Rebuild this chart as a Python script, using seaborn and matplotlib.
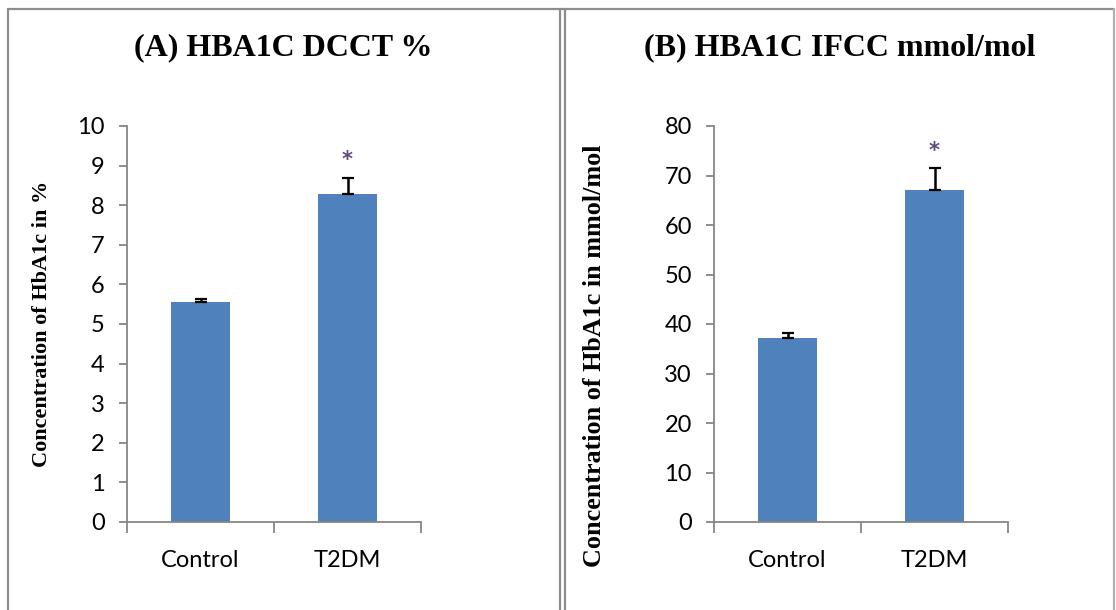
import matplotlib
matplotlib.use("Agg")
import matplotlib.pyplot as plt
from matplotlib.lines import Line2D
import seaborn as sns
import pandas as pd

# Group means and upper error bars
groups = ["Control", "T2DM"]
dcct_mean = [5.55, 8.28]
dcct_err = [0.08, 0.40]
ifcc_mean = [37.2, 67.0]
ifcc_err = [1.0, 4.5]

# Significance markers (y position in data units)
dcct_star = [None, 9.15]
ifcc_star = [None, 75.0]

titles = ["(A) HBA1C DCCT %", "(B) HBA1C IFCC mmol/mol"]
ylabels = ["Concentration of HbA1c in %", "Concentration of HbA1c in mmol/mol"]
yticks_a = [0, 1, 2, 3, 4, 5, 6, 7, 8, 9, 10]
yticks_b = [0, 10, 20, 30, 40, 50, 60, 70, 80]

sns.set_theme(style="white")
plt.rcParams["font.family"] = ["Lato", "DejaVu Sans"]
plt.rcParams["text.color"] = "black"

W, H = 1116, 610
fig = plt.figure(figsize=(W / 100, H / 100), dpi=100)

BAR = "#4F81BD"
AXC = "#868686"
BORDER = "#8c8c8c"


def px_axes(left, top, right, bottom):
    return fig.add_axes([left / W, 1 - bottom / H, (right - left) / W, (bottom - top) / H])


panels = [
    dict(ax=px_axes(127, 126, 421, 522), mean=dcct_mean, err=dcct_err, star=dcct_star,
         ticks=yticks_a, title=titles[0], ylabel=ylabels[0], tx=283, lx=-0.255, ly=0.5,
         lsize=16),
    dict(ax=px_axes(714, 126, 1008, 522), mean=ifcc_mean, err=ifcc_err, star=ifcc_star,
         ticks=yticks_b, title=titles[1], ylabel=ylabels[1], tx=840, lx=-0.367, ly=0.42,
         lsize=18.8),
]

for p in panels:
    ax = p["ax"]
    df = pd.DataFrame({"group": groups, "value": p["mean"]})
    sns.barplot(data=df, x="group", y="value", color=BAR, saturation=1,
                width=0.4, errorbar=None, ax=ax, edgecolor="none")
    ax.errorbar(range(len(groups)), p["mean"], yerr=[[0] * len(groups), p["err"]],
                fmt="none", ecolor="black", elinewidth=1.8, capsize=4.5, capthick=1.6)
    for i, s in enumerate(p["star"]):
        if s is not None:
            ax.text(i, s, "*", ha="center", va="center", fontsize=15,
                    fontweight="bold", color="#5e4c7c", family="DejaVu Sans")
    ax.set_xlim(-0.5, 1.5)
    ax.set_ylim(p["ticks"][0], p["ticks"][-1])
    ax.set_yticks(p["ticks"])
    ax.set_xticks([-0.5, 0.5, 1.5], minor=False)
    ax.set_xticklabels([])
    ax.set_xticks([0, 1], minor=True)
    ax.set_xticklabels(groups, minor=True)
    ax.tick_params(axis="x", which="major", direction="out", length=8, width=1.3,
                   color=AXC, bottom=True)
    ax.tick_params(axis="x", which="minor", length=0, pad=20, labelsize=17, labelcolor="black")
    ax.tick_params(axis="y", direction="out", length=6, width=1.3, color=AXC,
                   left=True, labelsize=17, labelcolor="black", pad=10)
    for side in ["top", "right"]:
        ax.spines[side].set_visible(False)
    for side in ["left", "bottom"]:
        ax.spines[side].set_color(AXC)
        ax.spines[side].set_linewidth(1.3)
    ax.set_xlabel("")
    ax.set_ylabel(p["ylabel"], family="Liberation Serif", fontweight="bold",
                  fontsize=p["lsize"], color="black")
    ax.yaxis.set_label_coords(p["lx"], p["ly"])
    fig.text(p["tx"] / W, 1 - 48 / H, p["title"], ha="center", va="center",
             family="Liberation Serif", fontweight="bold", fontsize=23, color="black")

# Table cell borders around the two panels
def vline(x, y0, y1, lw=1.6, c=BORDER):
    fig.add_artist(Line2D([x / W, x / W], [1 - y0 / H, 1 - y1 / H], color=c, lw=lw,
                          transform=fig.transFigure))


def hline(y, x0, x1, lw=1.6, c=BORDER):
    fig.add_artist(Line2D([x0 / W, x1 / W], [1 - y / H, 1 - y / H], color=c, lw=lw,
                          transform=fig.transFigure))


hline(8.5, 7.5, 1114)
vline(7.5, 8.5, 610)
vline(559.5, 8.5, 610)
vline(564.5, 8.5, 610)
vline(1114, 8.5, 610, c="#b0b0b0")

fig.savefig("out.png", dpi=100)
